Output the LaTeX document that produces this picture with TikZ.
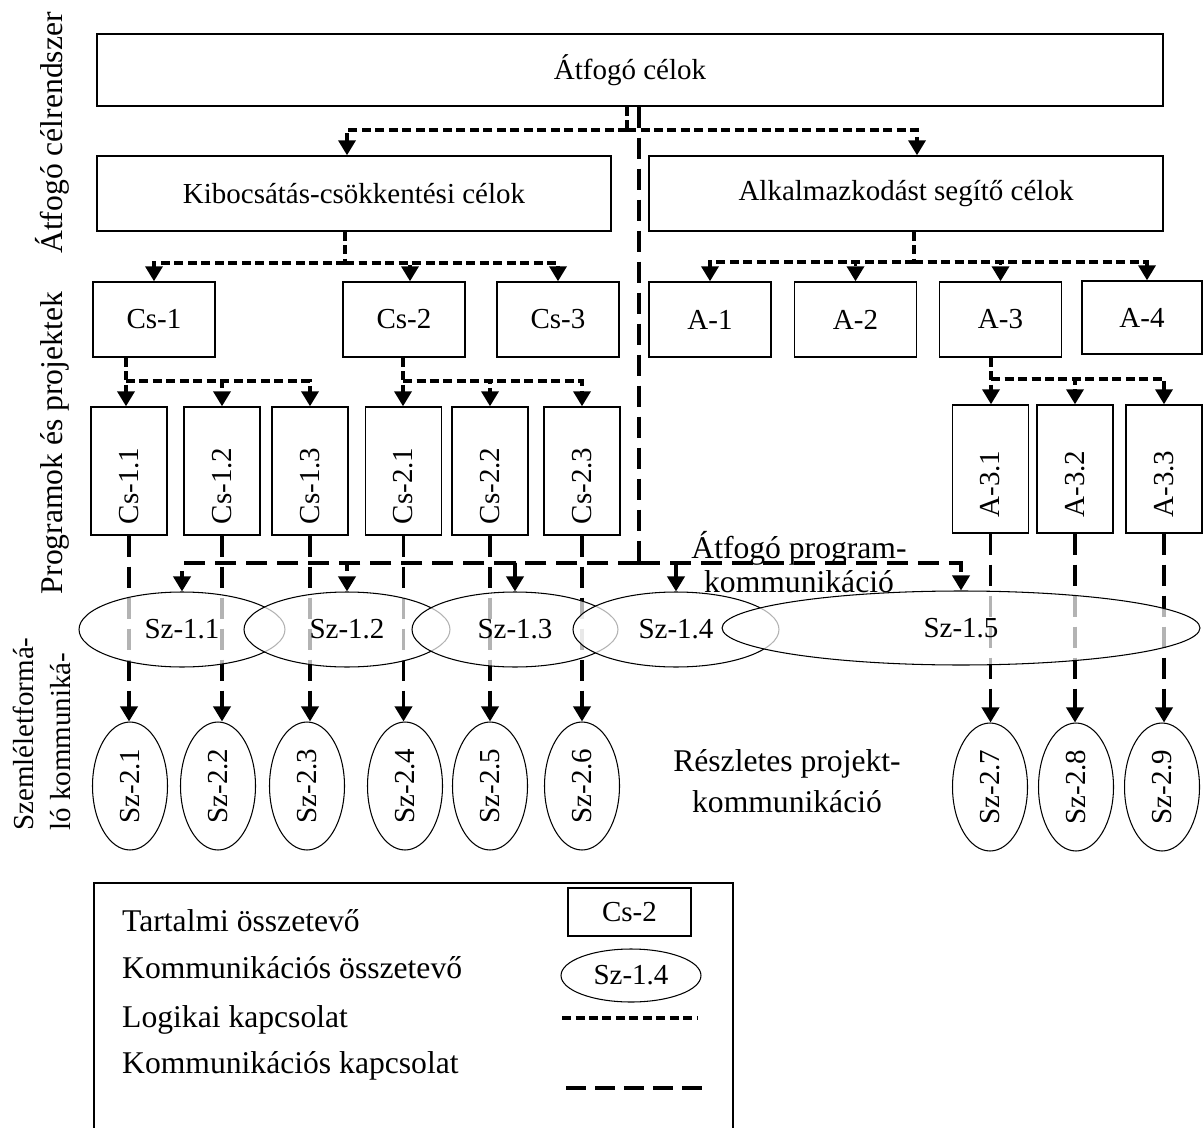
\documentclass[tikz,border=0pt]{standalone}
\usepackage{fontspec}
\setmainfont{Liberation Serif}
\usetikzlibrary{positioning, arrows.meta, shapes.geometric, backgrounds}
\newcommand{\vlabel}[1]{\rotatebox{90}{#1\hspace{6mm}}}
\newcommand{\vsz}[1]{\rotatebox{90}{#1}}

\begin{document}
\begin{tikzpicture}[x=0.02cm, y=-0.02cm, font=\fontsize{16.5}{19}\selectfont,
    headed/.style={-{Triangle[width=0.34cm, length=0.3cm]}},
    logic/.style={headed, line width=2pt, dash pattern=on 0.18cm off 0.09cm},
    comm/.style={headed, line width=2pt, dash pattern=on 0.42cm off 0.2cm},
    goal/.style={draw, line width=0.8pt, inner sep=0pt,
                 minimum width=10.28cm, minimum height=1.5cm},
    prog/.style={draw, line width=0.8pt, inner sep=0pt,
                 minimum width=2.44cm, minimum height=1.5cm},
    proj/.style={draw, line width=0.8pt, inner sep=0pt,
                 minimum width=1.52cm, minimum height=2.56cm},
    szone/.style={ellipse, draw, line width=0.6pt, inner sep=0pt,
                  fill=white, fill opacity=0.7, text opacity=1,
                  minimum width=4.12cm, minimum height=1.5cm},
    sztwo/.style={ellipse, draw, line width=0.6pt, inner sep=0pt,
                  minimum width=1.5cm, minimum height=2.56cm},
    sidelabel/.style={rotate=90, font=\fontsize{18}{21}\selectfont},
    annot/.style={align=center, font=\fontsize{18}{19}\selectfont},
    lgtext/.style={anchor=base west, font=\fontsize{18}{21}\selectfont}]

    \useasboundingbox (0,0) rectangle (1203,1128);

    % goal levels
    \node[draw, line width=0.8pt, minimum width=21.32cm, minimum height=1.44cm]
      (top) at (630,70) {Átfogó célok};
    \node[goal] (kib) at (354,193.5) {Kibocsátás-csökkentési célok};
    \node[goal] (alk) at (906,193.5) {Alkalmazkodást segítő célok};

    % programmes
    \node[prog] (cs1) at (154,319.5) {Cs-1};
    \node[prog] (cs2) at (404,319.5) {Cs-2};
    \node[prog] (cs3) at (558,319.5) {Cs-3};
    \node[prog] (a1) at (710,319.5) {A-1};
    \node[prog] (a2) at (855.5,319.5) {A-2};
    \node[prog] (a3) at (1000.5,319.5) {A-3};
    \node[prog, minimum width=2.4cm, minimum height=1.46cm] (a4) at (1142,317.5) {A-4};

    % projects
    \node[proj] (cs11) at (129,471) {\vlabel{Cs-1.1}};
    \node[proj] (cs12) at (222,471) {\vlabel{Cs-1.2}};
    \node[proj] (cs13) at (310,471) {\vlabel{Cs-1.3}};
    \node[proj] (cs21) at (403.5,471) {\vlabel{Cs-2.1}};
    \node[proj] (cs22) at (490,471) {\vlabel{Cs-2.2}};
    \node[proj] (cs23) at (582,471) {\vlabel{Cs-2.3}};
    \node[proj] (a31) at (990.5,469) {\vlabel{A-3.1}};
    \node[proj] (a32) at (1075,469) {\vlabel{A-3.2}};
    \node[proj] (a33) at (1164,469) {\vlabel{A-3.3}};

    % overarching communication
    \node[szone] (sz11) at (182,629.5) {Sz-1.1};
    \node[szone] (sz12) at (347,629.5) {Sz-1.2};
    \node[szone] (sz13) at (515,629.5) {Sz-1.3};
    \node[szone] (sz14) at (676,629.5) {Sz-1.4};
    \node[szone, minimum width=9.56cm, minimum height=1.48cm] (sz15) at (961,628) {Sz-1.5};

    % project communication
    \node[sztwo] (sz21) at (130,786) {\vsz{Sz-2.1}};
    \node[sztwo] (sz22) at (218,786) {\vsz{Sz-2.2}};
    \node[sztwo] (sz23) at (307,786) {\vsz{Sz-2.3}};
    \node[sztwo] (sz24) at (405,786) {\vsz{Sz-2.4}};
    \node[sztwo] (sz25) at (490,786) {\vsz{Sz-2.5}};
    \node[sztwo] (sz26) at (582,786) {\vsz{Sz-2.6}};
    \node[sztwo] (sz27) at (990,787) {\vsz{Sz-2.7}};
    \node[sztwo] (sz28) at (1076,787) {\vsz{Sz-2.8}};
    \node[sztwo] (sz29) at (1162,787) {\vsz{Sz-2.9}};

    % level captions
    \node[sidelabel] (lvlgoal) at (52,133) {Átfogó célrendszer};
    \node[sidelabel] (lvlprog) at (55,443) {Programok és projektek};
    \node[sidelabel, font=\fontsize{16.5}{21}\selectfont, align=left]
      (lvlcomm) at (42,734) {Szemléletformá-\\ló kommuniká-};
    \node[annot] (progcomm) at (799,562) {Átfogó program-\\kommunikáció};
    \node[annot, font=\fontsize{18}{23}\selectfont]
      (projcomm) at (787,781) {Részletes projekt-\\kommunikáció};

    % edges
    \coordinate (topfork) at (627,130);
    \coordinate (kibfork) at (345,263);
    \coordinate (alkfork) at (914,262);
    \coordinate (cs1fork) at (126,381);
    \coordinate (cs2fork) at (403,381);
    \coordinate (a3fork) at (991,379);
    \coordinate (commbar) at (639,563);

    \begin{scope}[on background layer]
      \draw[logic, -] (top.south -| topfork) -- (topfork);
      \draw[logic] (topfork) -| ([xshift=-0.14cm]kib.north);
      \draw[logic] (topfork) -| ([xshift=0.22cm]alk.north);

      \draw[logic, -] (kib.south -| kibfork) -- (kibfork);
      \draw[logic] (kibfork) -| (cs1.north);
      \draw[logic] (kibfork) -| ([xshift=0.12cm]cs2.north);
      \draw[logic] (kibfork) -| (cs3.north);

      \draw[logic, -] (alk.south -| alkfork) -- (alkfork);
      \draw[logic] (alkfork) -| (a1.north);
      \draw[logic] (alkfork) -| (a2.north);
      \draw[logic] (alkfork) -| (a3.north);
      \draw[logic] (alkfork) -| ([xshift=0.1cm]a4.north);

      \draw[logic] (cs1.south -| cs1fork) -- (cs11.north -| cs1fork);
      \draw[logic] (cs1fork) -| (cs12.north);
      \draw[logic] (cs1fork) -| (cs13.north);
      \draw[logic] (cs2.south -| cs2fork) -- (cs21.north -| cs2fork);
      \draw[logic] (cs2fork) -| (cs22.north);
      \draw[logic] (cs2fork) -| (cs23.north);
      \draw[logic] (a3.south -| a3fork) -- (a31.north -| a3fork);
      \draw[logic] (a3fork) -| (a32.north);
      \draw[logic] (a3fork) -| (a33.north);

      % communication links
      \draw[comm, -] (top.south -| commbar) -- (commbar);
      \draw[comm] (commbar) -| (sz11.north);
      \draw[comm] (commbar) -| (sz12.north);
      \draw[comm] (commbar) -| (sz13.north);
      \draw[comm] (commbar) -| (sz14.north);
      \draw[comm] (commbar) -| (sz15.north);

      \draw[comm] (cs11.south) -- (cs11.south |- sz21.north);
      \draw[comm] (cs12.south) -- (cs12.south |- sz22.north);
      \draw[comm] (cs13.south) -- (cs13.south |- sz23.north);
      \draw[comm] (cs21.south) -- (cs21.south |- sz24.north);
      \draw[comm] (cs22.south) -- (cs22.south |- sz25.north);
      \draw[comm] (cs23.south) -- (cs23.south |- sz26.north);
      \draw[comm] (a31.south) -- (a31.south |- sz27.north);
      \draw[comm] (a32.south) -- (a32.south |- sz28.north);
      \draw[comm] (a33.south) -- (a33.south |- sz29.north);
    \end{scope}

    % legend
    \draw[line width=1pt] (94,1128) -- (94,883) -- (733,883) -- (733,1128);
    \node[lgtext] (lgcontent) at (116,931) {Tartalmi összetevő};
    \node[lgtext] (lgcomm) at (116,978) {Kommunikációs összetevő};
    \node[lgtext] (lglogic) at (116,1027) {Logikai kapcsolat};
    \node[lgtext] (lglink) at (116,1073) {Kommunikációs kapcsolat};
    \node[draw, line width=0.8pt, inner sep=0pt, minimum width=2.46cm,
          minimum height=0.96cm] (lgbox) at (629.5,912) {Cs-2};
    \node[ellipse, draw, line width=0.6pt, inner sep=0pt, minimum width=2.8cm,
          minimum height=1.06cm] (lgell) at (631,975.5) {Sz-1.4};
    \draw[logic, -] (562,1018) -- (697,1018);
    \draw[comm, -, dash pattern=on 0.4cm off 0.18cm] (566,1088) -- (702,1088);
\end{tikzpicture}
\end{document}
